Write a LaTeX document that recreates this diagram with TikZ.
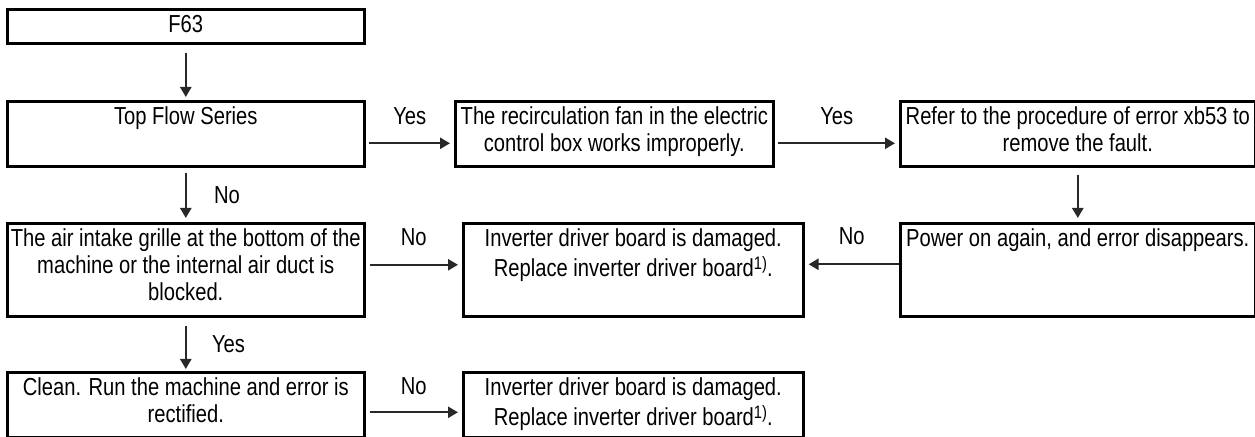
\documentclass[tikz,border=0pt]{standalone}
\usepackage{fontspec}
\setmainfont{Liberation Sans}[FakeStretch=0.82]
\usetikzlibrary{positioning,arrows.meta}
\definecolor{arrgray}{RGB}{40,40,40}
\newcommand{\celltext}[3]{\parbox[t][#2][t]{#1}{\centering\strut#3}}
\newcommand{\fnref}{\raisebox{0.55ex}{\fontsize{9}{9}\selectfont 1)}}

\begin{document}
\begin{tikzpicture}[x=0.5pt,y=-0.5pt,>={Triangle[length=5pt,width=5.5pt]},
  cell/.style={draw,line width=1.3pt,inner xsep=0pt,inner ysep=2pt,anchor=north west},
  arr/.style={->,draw=arrgray,line width=1.2pt},
  lbl/.style={inner sep=0pt},
  font=\fontsize{12.3}{13.5}\selectfont]
\useasboundingbox (0,0) rectangle (1255,437);
\node[cell] (f63) at (6,8) {\celltext{178.5pt}{13pt}{F63}};
\node[cell] (top) at (6,100) {\celltext{178.5pt}{28.5pt}{Top Flow Series}};
\node[cell] (recirc) at (454,100) {\celltext{159pt}{28.5pt}{The recirculation fan in the electric\\control box works improperly.}};
\node[cell] (refer) at (899,100) {\celltext{177.5pt}{28.5pt}{Refer to the procedure of error xb53 to\\remove the fault.}};
\node[cell] (air) at (6,222) {\celltext{178.5pt}{42.5pt}{The air intake grille at the bottom of the\\machine or the internal air duct is\\blocked.}};
\node[cell] (invA) at (462,222) {\celltext{170pt}{42.5pt}{Inverter driver board is damaged.\\Replace inverter driver board\fnref.}};
\node[cell] (power) at (899,222) {\celltext{177.5pt}{42.5pt}{Power on again, and error disappears.}};
\node[cell] (clean) at (6,371) {\celltext{178.5pt}{28.5pt}{Clean. Run the machine and error is\\rectified.}};
\node[cell] (invB) at (462,371) {\celltext{170pt}{28.5pt}{Inverter driver board is damaged.\\Replace inverter driver board\fnref.}};
\draw[arr,shorten <=4pt,shorten >=1.5pt] (f63.south) -- (top.north);
\draw[arr,shorten <=1.5pt,shorten >=2pt] ([yshift=-4.75pt]top.east) -- node[lbl,midway,above=8.5pt] {Yes} ([yshift=-4.75pt]recirc.west);
\draw[arr,shorten <=1.5pt,shorten >=2pt] ([yshift=-4.75pt]recirc.east) -- node[lbl,midway,above=8.5pt] {Yes} ([yshift=-4.75pt]refer.west);
\draw[arr,shorten <=3.5pt,shorten >=2pt] (refer.south) -- (power.north);
\draw[arr,shorten <=2.5pt,shorten >=2pt] (top.south) -- node[lbl,midway,right=13.5pt] {No} (air.north);
\draw[arr,shorten <=2pt,shorten >=2pt] ([yshift=2.5pt]air.east) -- node[lbl,midway,above=9pt] {No} ([yshift=2.5pt]invA.west);
\draw[arr,shorten >=2pt] ([yshift=2.75pt]power.west) -- node[lbl,midway,above=9pt] {No} ([yshift=2.75pt]invA.east);
\draw[arr,shorten <=4pt,shorten >=1pt] (air.south) -- node[lbl,midway,right=12.5pt] {Yes} (clean.north);
\draw[arr,shorten <=2pt,shorten >=2pt] ([yshift=-3.75pt]clean.east) -- node[lbl,midway,above=8pt] {No} ([yshift=-3.75pt]invB.west);
\end{tikzpicture}
\end{document}
